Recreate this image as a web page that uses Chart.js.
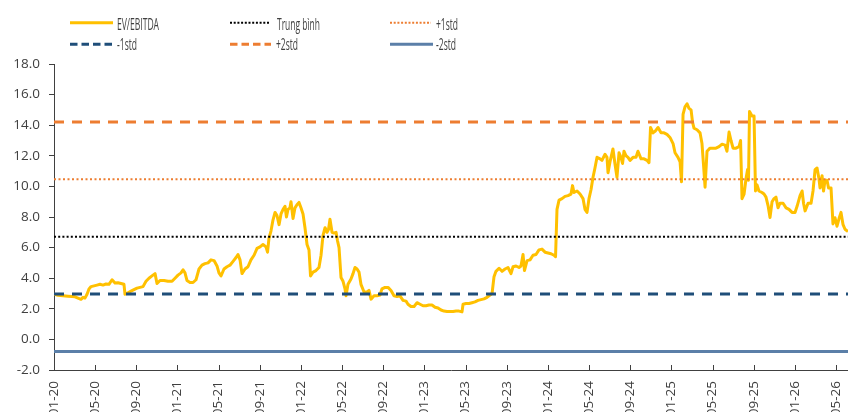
<!DOCTYPE html>
<html><head><meta charset="utf-8">
<script src="https://cdn.jsdelivr.net/npm/chart.js@4.4.0/dist/chart.umd.min.js"></script>
<style>
html,body{margin:0;padding:0;background:#fff;overflow:hidden;}
#wrap{position:relative;width:848px;height:440px;}
#c{position:absolute;left:0;top:0;}
#legend{position:absolute;left:0;top:0;}
</style></head><body>
<div id="wrap">
<canvas id="c" width="848" height="440"></canvas>
<svg id="legend" width="848" height="60" xmlns="http://www.w3.org/2000/svg"></svg>
</div>
<script>
// ---- DATA ----
// months since Jan 2020 (x positions of observations)
const months = [0,0.39,0.87,1.36,1.75,2.04,2.33,2.62,2.82,3.01,3.21,3.40,3.60,3.89,4.18,4.47,4.76,5.05,5.34,5.64,5.93,6.22,6.51,6.80,6.90,7.19,7.48,7.77,8.07,8.36,8.65,8.94,9.23,9.52,9.82,10.01,10.30,10.69,11.08,11.47,11.76,12.05,12.34,12.54,12.73,12.92,13.22,13.51,13.80,14.09,14.38,14.67,14.97,15.26,15.55,15.84,16.03,16.23,16.52,16.81,17.10,17.40,17.69,17.88,18.08,18.27,18.56,18.85,19.14,19.44,19.73,20.02,20.31,20.60,20.75,20.89,21.09,21.28,21.48,21.67,21.87,22.06,22.26,22.45,22.59,22.74,22.93,23.03,23.23,23.42,23.61,23.81,24.00,24.20,24.39,24.59,24.78,24.93,25.17,25.46,25.75,25.95,26.14,26.34,26.53,26.68,26.82,27.02,27.21,27.41,27.55,27.70,27.89,28.09,28.28,28.38,28.57,28.86,29.06,29.25,29.45,29.64,29.83,30.13,30.42,30.61,30.81,31.10,31.39,31.68,31.87,32.17,32.46,32.75,33.04,33.33,33.62,33.92,34.21,34.40,34.69,34.99,35.28,35.57,35.86,36.15,36.44,36.73,37.03,37.32,37.61,37.90,38.19,38.48,38.78,39.07,39.36,39.65,39.75,40.04,40.33,40.62,40.91,41.21,41.50,41.79,42.08,42.37,42.57,42.76,42.95,43.25,43.54,43.83,44.12,44.41,44.61,44.90,45.19,45.38,45.58,45.72,45.97,46.26,46.55,46.84,47.13,47.42,47.72,48.01,48.30,48.59,48.74,48.88,49.08,49.37,49.66,49.95,50.24,50.39,50.53,50.83,51.12,51.41,51.60,51.80,51.99,52.19,52.38,52.57,52.77,53.06,53.25,53.55,53.74,53.84,54.03,54.32,54.52,54.71,54.91,55.10,55.25,55.39,55.59,55.78,55.98,56.27,56.56,56.75,57.05,57.34,57.63,57.82,57.97,58.21,58.41,58.70,58.99,59.28,59.57,59.86,60.16,60.35,60.64,60.84,60.98,61.13,61.32,61.52,61.71,61.91,62.05,62.20,62.49,62.78,62.97,63.12,63.27,63.46,63.75,64.04,64.33,64.63,64.92,65.21,65.40,65.60,65.79,65.99,66.28,66.57,66.72,66.86,67.06,67.25,67.40,67.49,67.59,67.83,68.03,68.17,68.32,68.51,68.80,69.00,69.19,69.39,69.58,69.78,69.97,70.16,70.36,70.55,70.85,71.14,71.43,71.72,72.01,72.21,72.50,72.70,72.84,72.99,73.28,73.57,73.76,73.96,74.15,74.34,74.44,74.64,74.78,74.93,75.12,75.27,75.51,75.70,75.90,76.09,76.29,76.48,76.68,76.87,77.16];
const evEbitda = [2.95,2.88,2.85,2.82,2.8,2.78,2.7,2.62,2.75,2.7,2.95,3.3,3.45,3.5,3.55,3.6,3.55,3.62,3.6,3.9,3.68,3.7,3.65,3.6,2.95,3.05,3.15,3.25,3.35,3.4,3.45,3.8,4.0,4.15,4.3,3.65,3.85,3.85,3.8,3.8,4.0,4.2,4.35,4.55,4.35,3.85,3.72,3.72,3.9,4.6,4.85,4.95,5.0,5.2,5.15,4.8,4.35,4.15,4.6,4.75,4.85,5.1,5.35,5.55,5.2,4.3,4.6,4.75,5.2,5.5,5.95,6.05,6.2,6.05,5.7,6.6,7.1,7.8,8.3,8.1,7.5,8.2,8.5,8.7,8.0,8.5,8.6,9.0,7.9,8.6,8.8,8.95,8.6,8.2,7.3,6.2,5.85,4.15,4.4,4.5,4.7,5.5,6.8,7.3,7.0,7.2,7.85,7.0,6.95,7.0,6.45,6.0,4.05,3.8,3.3,2.85,3.6,3.95,4.3,4.7,4.6,4.4,3.6,3.1,3.1,3.2,2.63,2.85,2.85,2.9,3.3,3.4,3.4,3.2,2.85,2.8,2.85,2.55,2.5,2.3,2.15,2.15,2.4,2.3,2.2,2.2,2.25,2.25,2.1,2.05,1.92,1.85,1.82,1.82,1.82,1.85,1.85,1.8,2.3,2.35,2.35,2.4,2.45,2.55,2.6,2.65,2.75,2.9,3.0,4.1,4.45,4.65,4.45,4.6,4.7,4.3,4.75,4.8,4.7,4.8,5.55,4.5,5.15,5.2,5.5,5.55,5.85,5.9,5.7,5.65,5.6,5.5,5.4,8.5,9.1,9.2,9.35,9.4,9.5,10.05,9.6,9.7,9.5,9.2,8.5,8.3,9.2,9.8,10.6,11.2,11.9,11.8,11.7,12.1,11.9,10.9,11.6,12.45,11.45,10.6,12.2,11.9,11.5,12.3,12.0,11.9,11.7,11.9,11.9,12.3,11.8,11.8,11.7,11.55,13.85,13.5,13.6,13.85,13.5,13.5,13.4,13.2,12.8,12.2,11.9,11.6,10.3,14.7,15.2,15.4,15.1,15.0,14.2,13.8,13.7,13.5,12.8,11.4,9.95,12.3,12.5,12.5,12.5,12.6,12.76,12.7,12.3,13.55,13.0,12.5,12.5,12.6,13.0,9.2,9.5,10.5,11.1,10.4,14.9,14.6,14.6,9.7,10.1,9.7,9.6,9.5,9.3,8.75,7.97,9.0,9.2,9.3,8.6,8.9,8.9,8.6,8.5,8.3,8.3,8.7,9.4,9.7,8.9,8.4,8.9,8.9,9.7,11.1,11.2,10.5,9.9,10.7,9.7,10.4,10.4,9.9,9.9,7.55,7.95,7.4,7.9,8.3,7.5,7.2,7.05];
const bandNames  = ['Trung bình', '+1std', '-1std', '+2std', '-2std'];
const bandValues = [6.71, 10.46, 2.96, 14.21, -0.79];
const tickMonths = [0,4,8,12,16,20,24,28,32,36,40,44,48,52,56,60,64,68,72,76];
const tickLabels = ['01-20','05-20','09-20','01-21','05-21','09-21','01-22','05-22','09-22','01-23','05-23','09-23','01-24','05-24','09-24','01-25','05-25','09-25','01-26','05-26'];
const xMin = 0, xMax = 77.16;
const yMin = -2, yMax = 18, yStep = 2;

// ---- STYLES ----
const styles = {
  'EV/EBITDA':  {color:'#FFC000', width:3, dash:[]},
  'Trung bình': {color:'#000000', width:2, dash:[2,2.2]},
  '+1std':      {color:'#ED7D31', width:2, dash:[2,2.5]},
  '-1std':      {color:'#1F4E79', width:3, dash:[10,8]},
  '+2std':      {color:'#ED7D31', width:3, dash:[10,8]},
  '-2std':      {color:'#5B7FA8', width:3, dash:[]}
};

const mainData = months.map((m, i) => ({x: m, y: evEbitda[i]}));
const datasets = [{
  label: 'EV/EBITDA', data: mainData, borderColor: styles['EV/EBITDA'].color,
  borderWidth: 3, pointRadius: 0, tension: 0, borderJoinStyle: 'round', order: 10
}];
bandNames.forEach((n, i) => {
  datasets.push({
    label: n, data: [{x: xMin, y: bandValues[i]}, {x: xMax, y: bandValues[i]}],
    borderColor: styles[n].color, borderWidth: styles[n].width, borderDash: styles[n].dash,
    pointRadius: 0, order: i
  });
});

const axisColor = '#404040';
const innerTicks = {
  id: 'innerTicks',
  afterDraw(chart) {
    const s = chart.scales.x, ctx = chart.ctx;
    ctx.save();
    ctx.strokeStyle = axisColor; ctx.lineWidth = 1;
    s.ticks.forEach(t => {
      const px = Math.round(s.getPixelForValue(t.value)) + 0.5;
      ctx.beginPath(); ctx.moveTo(px, s.top - 5); ctx.lineTo(px, s.top); ctx.stroke();
    });
    ctx.restore();
  }
};

Chart.defaults.font.family = "'Open Sans', 'Noto Sans', sans-serif";
Chart.defaults.font.size = 13.5;
Chart.defaults.color = '#404040';

new Chart(document.getElementById('c'), {
  type: 'line',
  data: {datasets},
  options: {
    responsive: false, animation: false, devicePixelRatio: 1,
    layout: {padding: {top: 64, left: 0, right: 0, bottom: 0}},
    plugins: {legend: {display: false}, tooltip: {enabled: false}},
    scales: {
      x: {
        type: 'linear', min: xMin, max: xMax,
        afterBuildTicks: s => { s.ticks = tickMonths.map(v => ({value: v})); },
        afterFit: s => { s.height = 70; s.paddingLeft = 0; s.paddingRight = 0; },
        grid: {display: true, drawOnChartArea: false, drawTicks: false},
        border: {display: true, color: axisColor, width: 1},
        ticks: {
          autoSkip: false, minRotation: 90, maxRotation: 90, padding: 11,
          callback: v => { const i = tickMonths.indexOf(v); return i >= 0 ? tickLabels[i] : ''; }
        }
      },
      y: {
        min: yMin, max: yMax,
        afterFit: s => { s.width = 54; },
        grid: {drawOnChartArea: false, drawTicks: true, tickLength: 5, color: axisColor},
        border: {display: true, color: axisColor, width: 1},
        ticks: {stepSize: yStep, padding: 9, callback: v => v.toFixed(1)}
      }
    }
  },
  plugins: [innerTicks]
});

// ---- LEGEND (3 columns x 2 rows) ----
const legendItems = [
  {name: 'EV/EBITDA',  x1: 70,  x2: 113, y: 22.7, tx: 117, ty: 29.5, tw: 42, dash: ''},
  {name: 'Trung bình', x1: 230, x2: 270, y: 22.7, tx: 277, ty: 29.5, tw: 43, dash: '2 1.7'},
  {name: '+1std',      x1: 390, x2: 431, y: 22.7, tx: 436, ty: 29.5, tw: 22, dash: '2 1.7'},
  {name: '-1std',      x1: 70,  x2: 112, y: 44.3, tx: 117, ty: 50.2, tw: 20, dash: '7.5 4'},
  {name: '+2std',      x1: 230, x2: 271, y: 44.3, tx: 276, ty: 50.2, tw: 22, dash: '7.5 4'},
  {name: '-2std',      x1: 390, x2: 433, y: 44.3, tx: 436, ty: 50.2, tw: 20, dash: ''}
];
const svg = document.getElementById('legend');
const NS = 'http://www.w3.org/2000/svg';
legendItems.forEach(it => {
  const st = styles[it.name];
  const l = document.createElementNS(NS, 'line');
  l.setAttribute('x1', it.x1); l.setAttribute('x2', it.x2);
  l.setAttribute('y1', it.y); l.setAttribute('y2', it.y);
  l.setAttribute('stroke', st.color);
  l.setAttribute('stroke-width', st.width);
  if (it.dash) l.setAttribute('stroke-dasharray', it.dash);
  svg.appendChild(l);
  const t = document.createElementNS(NS, 'text');
  t.setAttribute('x', it.tx); t.setAttribute('y', it.ty);
  t.setAttribute('font-family', "'Open Sans', 'Noto Sans', sans-serif");
  t.setAttribute('font-size', '16');
  t.setAttribute('fill', '#404040');
  t.setAttribute('textLength', it.tw);
  t.setAttribute('lengthAdjust', 'spacingAndGlyphs');
  t.textContent = it.name;
  svg.appendChild(t);
});
</script>
</body></html>
